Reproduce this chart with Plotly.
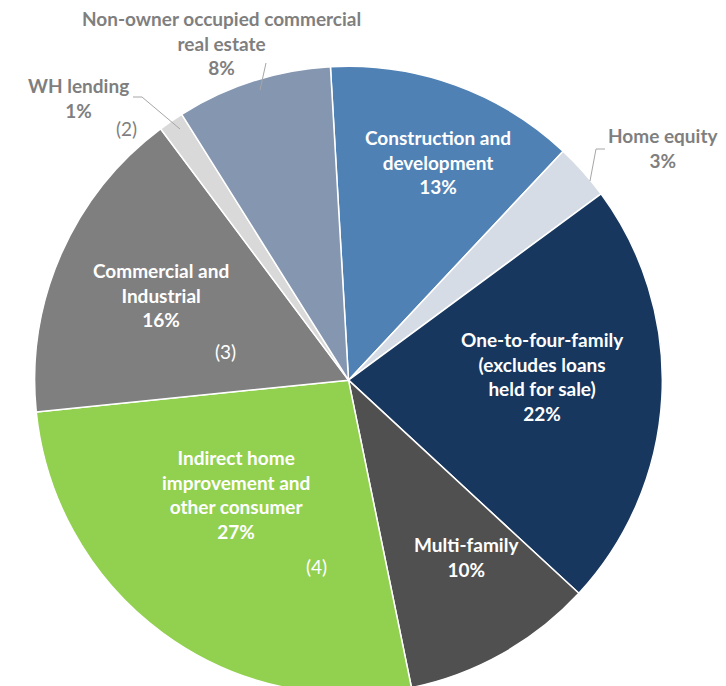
import plotly.graph_objects as go

# ---- data ----
categories = [
    "Construction and<br>development",
    "Home equity",
    "One-to-four-family<br>(excludes loans<br>held for sale)",
    "Multi-family",
    "Indirect home<br>improvement and<br>other consumer",
    "Commercial and<br>Industrial",
    "WH lending",
    "Non-owner occupied commercial<br>real estate",
]
values = [12.9, 2.9, 22.0, 9.9, 26.6, 16.4, 1.3, 8.0]
footnotes = ["", "", "", "", "(4)", "(3)", "(2)", ""]

# ---- style ----
colors = ["#4F81B5", "#D6DCE5", "#17375E", "#505050", "#92D050",
          "#7F7F7F", "#D9D9D9", "#8496B0"]
inside = [True, False, True, True, True, True, False, False]
# label centres (px) and footnote positions (px)
label_pos = [(430, 154), (655, 140), (534, 368), (458, 549),
             (228, 486), (153, 287), (70, 90), (213, 35)]
foot_pos = [None, None, None, None, (308, 558), (217, 343), (118, 121), None]

W, H = 726, 686
FONT = "Lato, Open Sans, sans-serif"


def px(x, y):
    return x / W, 1 - y / H


fig = go.Figure(go.Pie(
    values=values,
    labels=[c.replace("<br>", " ") for c in categories],
    sort=False,
    direction="clockwise",
    rotation=-3.3,
    marker=dict(colors=colors, line=dict(color="white", width=1.5)),
    textinfo="none",
    hoverinfo="label+percent",
    showlegend=False,
    domain=dict(x=[0.031, 0.907], y=[0.0, 0.915]),
))

total = sum(values)
annotations = []
for i, cat in enumerate(categories):
    pct = round(values[i] / total * 100)
    x, y = px(*label_pos[i])
    col = "white" if inside[i] else "#7F7F7F"
    annotations.append(dict(
        x=x, y=y, xref="paper", yref="paper", showarrow=False,
        text=f"<b>{cat}<br>{pct}%</b>",
        font=dict(family=FONT, size=19, color=col),
        align="center", xanchor="center", yanchor="middle",
    ))
    if foot_pos[i]:
        fx, fy = px(*foot_pos[i])
        annotations.append(dict(
            x=fx, y=fy, xref="paper", yref="paper", showarrow=False,
            text=footnotes[i],
            font=dict(family=FONT, size=19, color=col),
            xanchor="center", yanchor="middle",
        ))

shapes = []
leader_lines = [
    [(125, 89), (134, 89), (172, 121)],
    [(258, 55), (252, 82)],
    [(597, 141), (588, 141), (582, 173)],
]
for pts in leader_lines:
    path = "M " + " L ".join(f"{px(*p)[0]},{px(*p)[1]}" for p in pts)
    shapes.append(dict(type="path", path=path, xref="paper", yref="paper",
                       line=dict(color="#A6A6A6", width=1)))

fig.update_layout(
    width=W, height=H,
    margin=dict(l=0, r=0, t=0, b=0),
    paper_bgcolor="white",
    annotations=annotations,
    shapes=shapes,
)

fig.write_html("out.html")
